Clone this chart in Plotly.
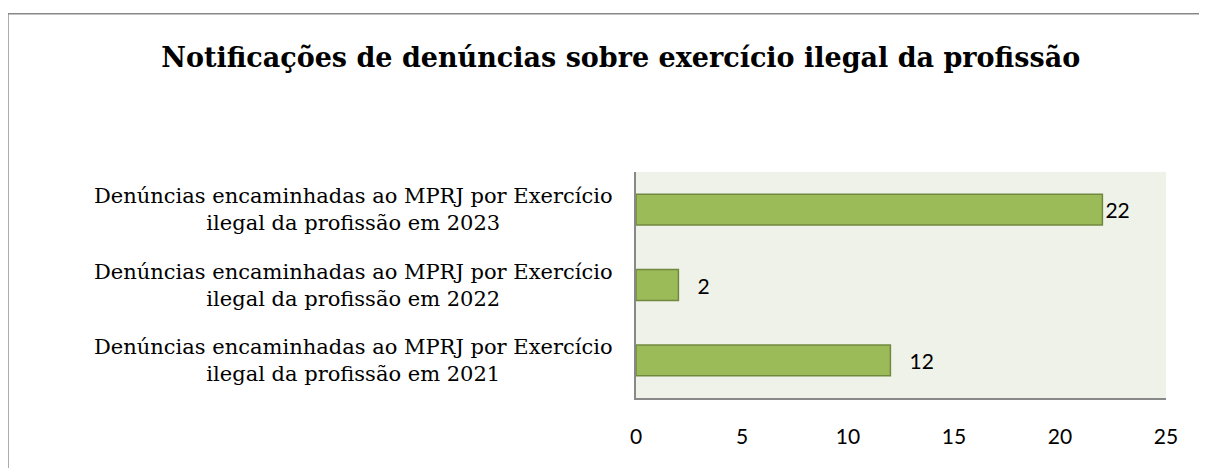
import plotly.graph_objects as go

# dados do gráfico (de baixo para cima, como no original)
categorias = [
    "Denúncias encaminhadas ao MPRJ por Exercício<br>ilegal da profissão em 2021",
    "Denúncias encaminhadas ao MPRJ por Exercício<br>ilegal da profissão em 2022",
    "Denúncias encaminhadas ao MPRJ por Exercício<br>ilegal da profissão em 2023",
]
valores = [12, 2, 22]
ticks_x = [0, 5, 10, 15, 20, 25]

titulo = "Notificações de denúncias sobre exercício ilegal da profissão"

# o Excel afasta alguns rótulos da barra; 22 fica colado
rotulos = ["   " + str(v) if v < 20 else str(v) for v in valores]

fig = go.Figure()

fig.add_trace(go.Bar(
    x=valores,
    y=categorias,
    orientation="h",
    width=0.41,
    marker=dict(color="#9BBB59", line=dict(color="#71893F", width=1.5)),
    text=rotulos,
    textposition="outside",
    textfont=dict(family="Lato, Open Sans, sans-serif", size=21, color="#000000"),
    cliponaxis=False,
    hoverinfo="skip",
))

# a página tem 8px de margem no body, por isso 1199x460
fig.update_layout(
    width=1199,
    height=460,
    margin=dict(l=628, r=41, t=164, b=70),
    paper_bgcolor="white",
    plot_bgcolor="#EFF2E9",
    showlegend=False,
    title=dict(
        text="<b>" + titulo + "</b>",
        x=0.511, xanchor="center", xref="container",
        y=0.893, yanchor="middle", yref="container",
        font=dict(family="DejaVu Serif, Georgia, serif", size=27, color="#000000"),
    ),
    bargap=0.59,
)

# rótulos das categorias centralizados (os ticks do plotly ficam alinhados à direita)
for cat in categorias:
    fig.add_annotation(
        x=-0.04, xref="paper", xanchor="right",
        y=cat, yref="y", yanchor="middle",
        text=cat, align="center", showarrow=False,
        font=dict(family="DejaVu Serif, Georgia, serif", size=21, color="#000000"),
    )

# borda externa do gráfico (só topo e esquerda aparecem)
fig.update_layout(shapes=[
    dict(type="line", xref="paper", yref="paper", x0=-1.185, x1=1.1, y0=1.70, y1=1.70,
         line=dict(color="#888888", width=1.5)),
    dict(type="line", xref="paper", yref="paper", x0=-1.185, x1=-1.185, y0=1.70, y1=-0.4,
         line=dict(color="#888888", width=1.5)),
])

fig.update_xaxes(
    range=[0, 25],
    tickvals=ticks_x,
    showgrid=False,
    zeroline=False,
    showline=True,
    linecolor="#888888",
    linewidth=1.5,
    ticks="",
    ticklabelstandoff=19,
    tickfont=dict(family="Lato, Open Sans, sans-serif", size=21, color="#000000"),
)

fig.update_yaxes(
    showgrid=False,
    zeroline=False,
    showline=True,
    linecolor="#888888",
    linewidth=1.5,
    ticks="",
    showticklabels=False,
)

fig.write_html("out.html")
